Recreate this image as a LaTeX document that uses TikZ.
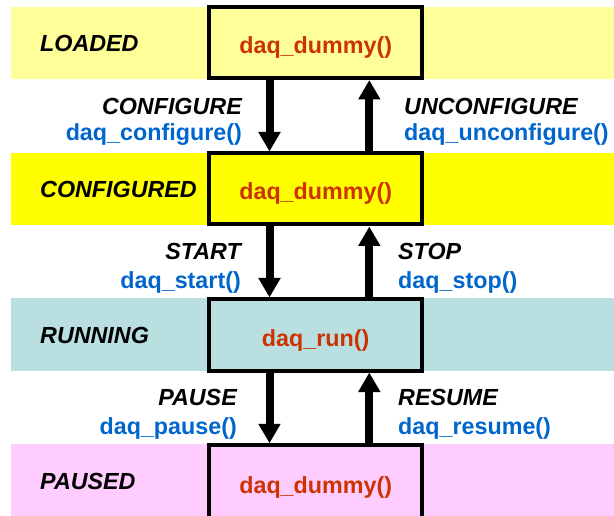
\documentclass[tikz,border=0pt]{standalone}
\usepackage{fontspec}
\setmainfont{Liberation Sans}
\usetikzlibrary{arrows.meta}
\definecolor{bandA}{RGB}{255,255,153}
\definecolor{bandB}{RGB}{255,255,0}
\definecolor{bandC}{RGB}{185,223,225}
\definecolor{bandD}{RGB}{255,204,255}
\definecolor{fnred}{RGB}{204,51,0}
\definecolor{fnblue}{RGB}{0,102,204}
\begin{document}
\begin{tikzpicture}[x=1pt,y=-1pt,
  every node/.style={font=\fontsize{23.3}{27}\selectfont\bfseries, inner sep=0pt},
  statebox/.style={draw=black, line width=4pt, minimum width=213pt, minimum height=71pt, text=fnred, text height=22pt, text depth=0pt},
  statename/.style={anchor=base west, font=\fontsize{23.3}{27}\selectfont\bfseries\itshape},
  evname/.style={font=\fontsize{23.3}{27}\selectfont\bfseries\itshape},
  fnname/.style={text=fnblue},
  arr/.style={line width=8pt, -{Triangle[width=21pt,length=19.5pt]}}
]
\useasboundingbox (0,0) rectangle (614,516);
% bands
\fill[bandA] (11,7) rectangle (614,79);
\fill[bandB] (11,153) rectangle (614,225);
\fill[bandC] (11,298) rectangle (614,371);
\fill[bandD] (11,444) rectangle (614,516);
% boxes
\node[statebox, fill=bandA] (l) at (315.7,42.5) {daq\_dummy()};
\node[statebox, fill=bandB] (c) at (315.7,189) {daq\_dummy()};
\node[statebox, fill=bandC] (r) at (315.7,335) {daq\_run()};
\node[statebox, fill=bandD, minimum height=74pt] (p) at (315.7,482.3) {daq\_dummy()};
% state names
\node[statename] (ln) at (40,52) {LOADED};
\node[statename] (cn) at (40,197.5) {CONFIGURED};
\node[statename] (rn) at (40,343) {RUNNING};
\node[statename] (pn) at (40,489) {PAUSED};
% arrows
\draw[arr] ([xshift=-46.2pt]l.south) -- ([xshift=-46.2pt]c.north);
\draw[arr] ([xshift=53.6pt]c.north) -- ([xshift=53.6pt]l.south);
\draw[arr] ([xshift=-46.2pt]c.south) -- ([xshift=-46.2pt]r.north);
\draw[arr] ([xshift=53.6pt]r.north) -- ([xshift=53.6pt]c.south);
\draw[arr] ([xshift=-46.2pt]r.south) -- ([xshift=-46.2pt]p.north);
\draw[arr] ([xshift=53.6pt]p.north) -- ([xshift=53.6pt]r.south);
% transition labels
\node[evname, anchor=base east] (e1) at (242,115) {CONFIGURE};
\node[fnname, anchor=base east] (f1) at (242,141) {daq\_configure()};
\node[evname, anchor=base west] (e2) at (404,115) {UNCONFIGURE};
\node[fnname, anchor=base west] (f2) at (404,141) {daq\_unconfigure()};
\node[evname, anchor=base east] (e3) at (241,260) {START};
\node[fnname, anchor=base east] (f3) at (241,288) {daq\_start()};
\node[evname, anchor=base west] (e4) at (398,260) {STOP};
\node[fnname, anchor=base west] (f4) at (398,288) {daq\_stop()};
\node[evname, anchor=base east] (e5) at (237,405.5) {PAUSE};
\node[fnname, anchor=base east] (f5) at (237,434) {daq\_pause()};
\node[evname, anchor=base west] (e6) at (398,405.5) {RESUME};
\node[fnname, anchor=base west] (f6) at (398,434) {daq\_resume()};
\end{tikzpicture}
\end{document}
